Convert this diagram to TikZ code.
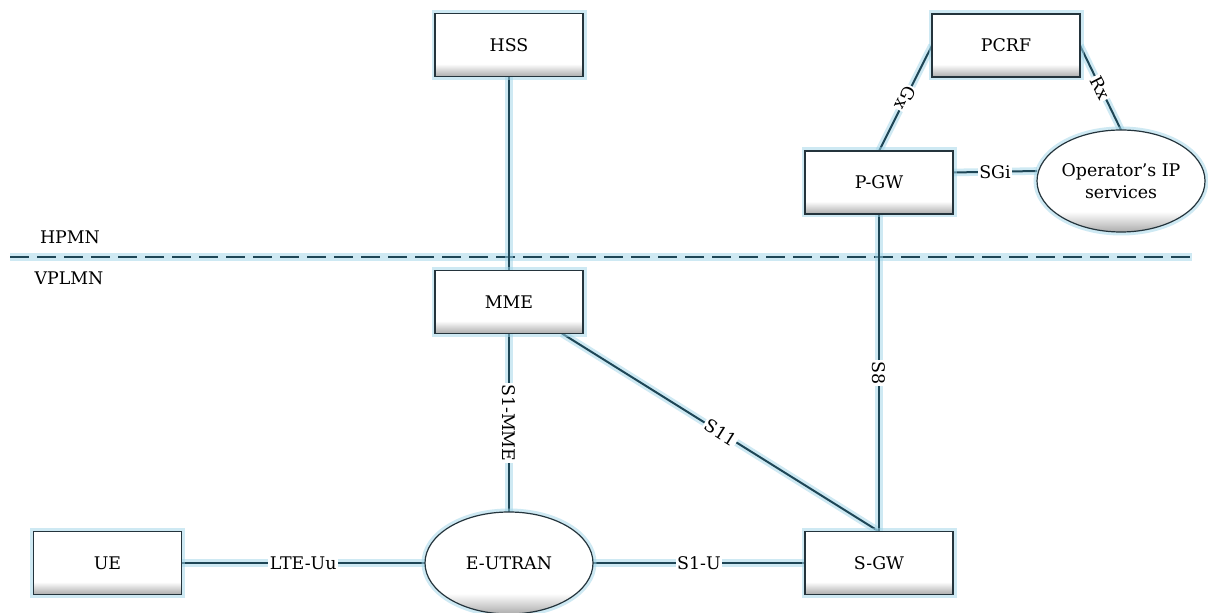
\documentclass[tikz,border=0pt]{standalone}
\usepackage{fontspec}
\setmainfont{DejaVu Serif}
\usetikzlibrary{shapes.geometric,backgrounds,calc}
\definecolor{linec}{HTML}{1E4656}
\definecolor{glowc}{HTML}{9ED4E8}
\definecolor{boxc}{HTML}{24343C}
\pgfdeclareverticalshading{boxshade}{100bp}{color(0bp)=(gray!65); color(25bp)=(gray!65); color(35bp)=(white); color(100bp)=(white)}
\tikzset{
  txt/.style={font=\fontsize{8.7}{10.7}\selectfont, text=black},
  glowdraw/.style={preaction={draw=glowc, line width=3.5pt, opacity=0.5}},
  box/.style={rectangle, draw=boxc, line width=0.8pt, shade, shading=boxshade,
    minimum width=74pt, minimum height=31.5pt, inner sep=0pt, outer sep=0pt, txt, glowdraw},
  oval/.style={ellipse, draw=boxc, line width=0.6pt, shade, shading=boxshade,
    minimum width=84pt, minimum height=51pt, inner sep=0pt, outer sep=0pt, txt, align=center, glowdraw},
  conn/.style={draw=linec, line width=1pt, preaction={draw=glowc, line width=3.8pt, opacity=0.5}},
  lab/.style={fill=white, inner sep=0.8pt, txt},
  plain/.style={txt, inner sep=0pt}
}
\begin{document}
\begin{tikzpicture}[x=0.5pt, y=-0.5pt]
\useasboundingbox (0,0) rectangle (1208,613);

\node[box] (HSS) at (509,45) {HSS};
\node[box] (PCRF) at (1006,45.5) {PCRF};
\node[box] (PGW) at (879,182.5) {P-GW};
\node[oval] (OP) at (1121,181) {Operator’s IP\\services};
\node[box] (MME) at (509,302) {MME};
\node[box] (SGW) at (879,563) {S-GW};
\node[box] (UE) at (107.5,563) {UE};
\node[oval] (EU) at (509,563) {E-UTRAN};

\node[plain] (HP) at (70,237) {HPMN};
\node[plain] (VP) at (69,278) {VPLMN};
\coordinate (dl) at (10,257);
\coordinate (dr) at (1192,257);

\begin{pgfonlayer}{background}
\fill[white] (0,0) rectangle (1208,613);
\draw[conn, dash pattern=on 9.5pt off 4pt] (dl) -- (dr);
\draw[conn] (HSS.south) -- (MME.north);
\draw[conn] (MME.south) -- node[lab, rotate=-90] {S1-MME} (EU.north);
\draw[conn] ([xshift=26.5pt]MME.south) -- node[lab, rotate=-32.2] {S11} (SGW.north);
\draw[conn] (PGW.south) -- node[lab, rotate=-90] {S8} (SGW.north);
\draw[conn] (UE.east) -- node[lab] {LTE-Uu} (EU.west);
\draw[conn] (EU.east) -- node[lab] {S1-U} (SGW.west);
\draw[conn] (PGW.north) -- node[lab, rotate=-116.3] {Gx} (PCRF.west);
\draw[conn] (PCRF.east) -- node[lab, rotate=-62.6] {Rx} (OP.north);
\draw[conn] ([yshift=5pt]PGW.east) -- node[lab] {SGi} ([yshift=5pt]OP.west);
\end{pgfonlayer}
\end{tikzpicture}
\end{document}
